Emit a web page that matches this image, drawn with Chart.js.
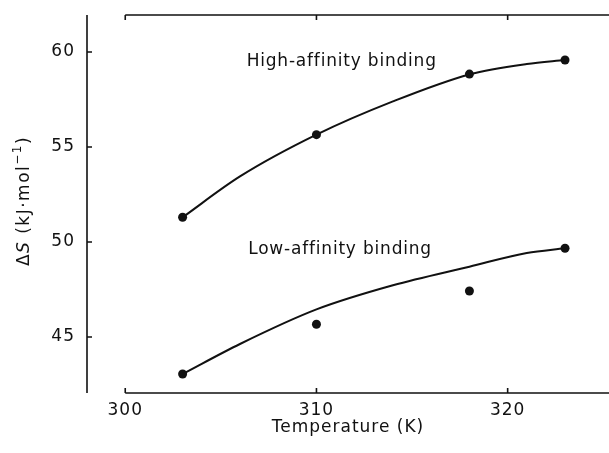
<!DOCTYPE html>
<html><head><meta charset="utf-8">
<script src="https://cdn.jsdelivr.net/npm/chart.js@4"></script>
<style>html,body{margin:0;padding:0;background:#fff}</style>
</head><body>
<canvas id="c" width="609" height="453" style="display:block;width:609px;height:453px"></canvas>
<script>
const temperatures = [303, 310, 318, 323];
const highAffinity = [51.3, 55.65, 58.84, 59.58];
const lowAffinity = [43.05, 45.67, 47.42, 49.67];
const fitTemperatures = [303, 306, 310, 314, 318, 321, 323];
const highFit = [51.3, 53.45, 55.65, 57.4, 58.82, 59.37, 59.58];
const lowFit = [43.05, 44.63, 46.45, 47.72, 48.7, 49.42, 49.67];
const xTicks = [300, 310, 320];
const yTicks = [45, 50, 55, 60];
const seriesLabels = ['High-affinity binding', 'Low-affinity binding'];
const labelAnchors = [[306.35, 59.26], [306.43, 49.37]];

const FONT = '"DejaVu Sans", "Liberation Sans", sans-serif';
const INK = '#111';
const SPACING = '1px';

const pts = (xs, ys) => xs.map((x, i) => ({x, y: ys[i]}));
const noPad = s => { s.paddingTop = 0; s.paddingBottom = 0; s.paddingLeft = 0; s.paddingRight = 0; };

const spacing = {
  id: 'spacing',
  beforeUpdate(chart) { chart.ctx.letterSpacing = SPACING; },
  beforeDraw(chart) { chart.ctx.letterSpacing = SPACING; }
};

const brokenAxes = {
  id: 'brokenAxes',
  afterDraw(chart) {
    const {ctx, chartArea: a, scales: {x, y}} = chart;
    ctx.save();
    ctx.strokeStyle = INK;
    ctx.lineWidth = 1.6;
    ctx.beginPath();
    ctx.moveTo(a.left, a.top); ctx.lineTo(a.left, a.bottom);
    yTicks.forEach(v => { const p = y.getPixelForValue(v); ctx.moveTo(a.left, p); ctx.lineTo(a.left + 5, p); });
    const x0 = x.getPixelForValue(xTicks[0]);
    ctx.moveTo(x0, a.bottom); ctx.lineTo(a.right, a.bottom);
    ctx.moveTo(x0, a.top); ctx.lineTo(a.right, a.top);
    xTicks.forEach(v => {
      const p = x.getPixelForValue(v);
      ctx.moveTo(p, a.bottom); ctx.lineTo(p, a.bottom - 5);
      ctx.moveTo(p, a.top); ctx.lineTo(p, a.top + 5);
    });
    ctx.stroke();

    ctx.fillStyle = INK;
    ctx.letterSpacing = '0.8px';
    ctx.font = '17px ' + FONT;
    ctx.textBaseline = 'alphabetic';
    ctx.textAlign = 'left';
    seriesLabels.forEach((t, i) => {
      ctx.fillText(t, x.getPixelForValue(labelAnchors[i][0]), y.getPixelForValue(labelAnchors[i][1]));
    });

    ctx.letterSpacing = '1.5px';
    const cx = 25, cy = (a.top + a.bottom) / 2 - 3;
    const parts = [
      {t: 'Δ', f: '17px ' + FONT, dy: 0},
      {t: 'S', f: 'italic 17px ' + FONT, dy: 0},
      {t: ' (kJ·mol', f: '17px ' + FONT, dy: 0},
      {t: '−1', f: '12px ' + FONT, dy: -7},
      {t: ')', f: '17px ' + FONT, dy: 0}
    ];
    let total = 0;
    parts.forEach(p => { ctx.font = p.f; p.w = ctx.measureText(p.t).width; total += p.w; });
    ctx.translate(cx, cy);
    ctx.rotate(-Math.PI / 2);
    ctx.textBaseline = 'middle';
    let px = -total / 2;
    parts.forEach(p => { ctx.font = p.f; ctx.fillText(p.t, px, p.dy); px += p.w; });
    ctx.restore();
  }
};

new Chart(document.getElementById('c'), {
  type: 'scatter',
  data: {
    datasets: [
      {label: seriesLabels[0] + ' fit', data: pts(fitTemperatures, highFit), showLine: true, pointRadius: 0,
       borderColor: INK, borderWidth: 2, cubicInterpolationMode: 'monotone', fill: false},
      {label: seriesLabels[1] + ' fit', data: pts(fitTemperatures, lowFit), showLine: true, pointRadius: 0,
       borderColor: INK, borderWidth: 2, cubicInterpolationMode: 'monotone', fill: false},
      {label: seriesLabels[0], data: pts(temperatures, highAffinity), pointRadius: 4.5,
       backgroundColor: INK, borderColor: INK, borderWidth: 0},
      {label: seriesLabels[1], data: pts(temperatures, lowAffinity), pointRadius: 4.5,
       backgroundColor: INK, borderColor: INK, borderWidth: 0}
    ]
  },
  options: {
    responsive: false,
    animation: false,
    layout: {autoPadding: false, padding: {left: 0, right: 0, top: 15, bottom: 0}},
    plugins: {legend: {display: false}, tooltip: {enabled: false}},
    scales: {
      x: {
        type: 'linear', position: 'bottom', min: 298, max: 325.3,
        afterBuildTicks: s => { s.ticks = xTicks.map(v => ({value: v})); },
        afterFit: s => { s.height = 60; noPad(s); },
        grid: {display: false, drawTicks: false, tickLength: 0}, border: {display: false},
        ticks: {color: INK, font: {family: FONT, size: 17}, padding: 7, maxRotation: 0, autoSkip: false},
        title: {display: true, text: 'Temperature (K)', color: INK, font: {family: FONT, size: 17}, padding: {top: 0, bottom: 15}}
      },
      y: {
        type: 'linear', position: 'left', min: 42.05, max: 61.95,
        afterBuildTicks: s => { s.ticks = yTicks.map(v => ({value: v})); },
        afterFit: s => { s.width = 87; noPad(s); },
        grid: {display: false, drawTicks: false, tickLength: 0}, border: {display: false},
        ticks: {color: INK, font: {family: FONT, size: 17}, padding: 12},
        title: {display: false}
      }
    }
  },
  plugins: [spacing, brokenAxes]
});
</script>
</body></html>
